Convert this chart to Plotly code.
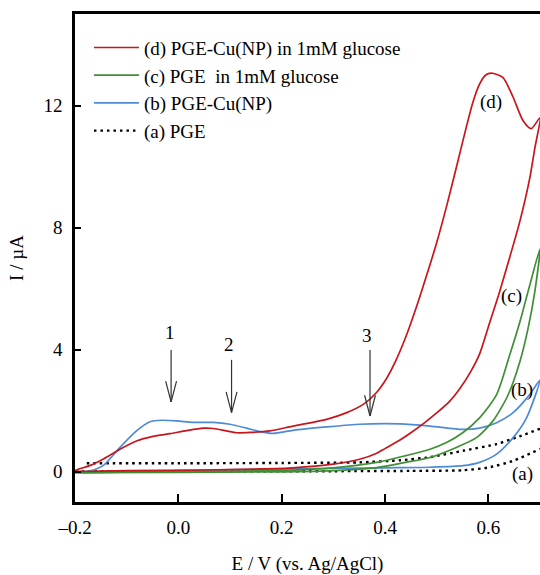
import plotly.graph_objects as go

# ---- data (E in V, I in uA) ----
d_fwd_E = [-0.2, -0.17, -0.145, -0.113, -0.081, -0.049, -0.016, 0.016, 0.048, 0.068, 0.093, 0.113, 0.139, 0.177,
           0.222, 0.287, 0.326, 0.358, 0.384, 0.403, 0.42, 0.44, 0.46, 0.48, 0.5, 0.52, 0.54, 0.556, 0.57, 0.583,
           0.595, 0.606, 0.628, 0.648, 0.667, 0.683, 0.7]
d_fwd_I = [0.03, 0.2, 0.41, 0.73, 1.0, 1.15, 1.24, 1.34, 1.42, 1.41, 1.33, 1.27, 1.28, 1.33,
           1.49, 1.71, 1.93, 2.2, 2.6, 3.05, 3.6, 4.4, 5.35, 6.4, 7.5, 8.75, 10.1, 11.2, 12.1, 12.7,
           13.0, 13.06, 12.92, 12.27, 11.51, 11.24, 11.6]
d_rev_E = [0.69, 0.68, 0.661, 0.641, 0.622, 0.603, 0.583, 0.565, 0.545, 0.525, 0.5, 0.475, 0.45, 0.429, 0.4,
           0.384, 0.351, 0.3, 0.222, 0.15, 0.05, -0.1, -0.2]
d_rev_I = [10.6, 9.6, 8.2, 7.0, 5.9, 4.9, 3.85, 3.25, 2.72, 2.3, 1.92, 1.58, 1.27, 1.03, 0.75,
           0.6, 0.4, 0.24, 0.12, 0.08, 0.05, 0.03, 0.03]

c_low_E = [-0.2, 0.0, 0.2, 0.3, 0.384, 0.44, 0.487, 0.538, 0.577, 0.609, 0.638, 0.661, 0.677, 0.69, 0.7]
c_low_I = [-0.04, -0.03, -0.01, 0.03, 0.13, 0.3, 0.46, 0.79, 1.11, 1.66, 2.5, 3.6, 4.7, 5.9, 7.3]
c_up_E = [0.68, 0.661, 0.641, 0.616, 0.583, 0.551, 0.519, 0.487, 0.44, 0.384, 0.3, 0.2, 0.0, -0.2]
c_up_I = [6.1, 4.9, 3.8, 2.52, 1.76, 1.28, 0.95, 0.73, 0.52, 0.3, 0.12, 0.04, 0.0, -0.02]

b_fwd_E = [-0.2, -0.17, -0.145, -0.113, -0.081, -0.055, -0.032, -0.003, 0.029, 0.068, 0.1, 0.132, 0.158,
           0.184, 0.222, 0.287, 0.351, 0.429, 0.487, 0.551, 0.583, 0.616, 0.648, 0.68, 0.7]
b_fwd_I = [-0.05, 0.02, 0.2, 0.79, 1.33, 1.63, 1.68, 1.66, 1.61, 1.61, 1.55, 1.42, 1.31,
           1.25, 1.35, 1.46, 1.55, 1.56, 1.49, 1.38, 1.42, 1.6, 1.93, 2.52, 3.0]
b_rev_E = [0.674, 0.648, 0.616, 0.583, 0.551, 0.487, 0.4, 0.3, 0.177, 0.0, -0.2]
b_rev_I = [1.76, 1.11, 0.57, 0.3, 0.19, 0.14, 0.12, 0.1, 0.08, 0.03, -0.05]

a_low_E = [-0.2, 0.0, 0.3, 0.45, 0.55, 0.6, 0.65, 0.7]
a_low_I = [0.0, 0.0, 0.01, 0.02, 0.04, 0.13, 0.36, 0.74]
a_up_E = [0.7, 0.66, 0.616, 0.551, 0.487, 0.43, 0.35, 0.2, 0.0, -0.185]
a_up_I = [1.4, 1.15, 0.9, 0.68, 0.47, 0.37, 0.3, 0.28, 0.27, 0.27]

legend_names = ["(d) PGE-Cu(NP) in 1mM glucose", "(c) PGE\u00a0 in 1mM glucose", "(b) PGE-Cu(NP)", "(a) PGE"]

curve_label_text = ["(d)", "(c)", "(b)", "(a)"]
curve_label_E = [0.606, 0.645, 0.666, 0.667]
curve_label_I = [12.1, 5.77, 2.68, -0.08]

arrow_text = ["1", "2", "3"]
arrow_E = [-0.014, 0.103, 0.371]
arrow_tail_I = [3.98, 3.66, 3.98]
arrow_tip_I = [2.28, 1.93, 1.82]
arrow_label_E = [-0.016, 0.098, 0.365]
arrow_label_I = [4.56, 4.18, 4.45]

x_tickvals = [-0.2, 0.0, 0.2, 0.4, 0.6]
x_ticktext = ["\u20130.2", "0.0", "0.2", "0.4", "0.6"]
y_tickvals = [0, 4, 8, 12]
y_ticktext = ["0", "4", "8", "12"]

RED = "#c8161e"
GREEN = "#3f8f35"
BLUE = "#4f8ad6"
FONT = "Liberation Serif"
FS = 19

fig = go.Figure()
fig.add_trace(go.Scatter(x=a_low_E + [None] + a_up_E, y=a_low_I + [None] + a_up_I, mode="lines",
                         name=legend_names[3],
                         line=dict(color="black", width=2.4, dash="2.5px,4px", shape="spline", smoothing=0.6)))
fig.add_trace(go.Scatter(x=b_fwd_E + b_rev_E, y=b_fwd_I + b_rev_I, mode="lines", name=legend_names[2],
                         line=dict(color=BLUE, width=1.7, shape="spline", smoothing=0.7)))
fig.add_trace(go.Scatter(x=c_low_E + c_up_E, y=c_low_I + c_up_I, mode="lines", name=legend_names[1],
                         line=dict(color=GREEN, width=1.7, shape="spline", smoothing=0.7)))
fig.add_trace(go.Scatter(x=d_fwd_E + d_rev_E, y=d_fwd_I + d_rev_I, mode="lines", name=legend_names[0],
                         line=dict(color=RED, width=1.7, shape="spline", smoothing=0.7)))

for t, e, i in zip(curve_label_text, curve_label_E, curve_label_I):
    fig.add_annotation(x=e, y=i, text=t, showarrow=False, font=dict(family=FONT, size=FS, color="black"))

head_dx = 0.0105
head_dy = 0.68
for t, e, tail, tip, le, li in zip(arrow_text, arrow_E, arrow_tail_I, arrow_tip_I, arrow_label_E, arrow_label_I):
    fig.add_annotation(x=le, y=li, text=t, showarrow=False, font=dict(family=FONT, size=FS, color="black"))
    ln = dict(color="#333333", width=1.2)
    fig.add_shape(type="line", x0=e, x1=e, y0=tail, y1=tip, line=ln)
    fig.add_shape(type="line", x0=e - head_dx, x1=e, y0=tip + head_dy, y1=tip, line=ln)
    fig.add_shape(type="line", x0=e + head_dx, x1=e, y0=tip + head_dy, y1=tip, line=ln)

fig.update_layout(
    width=540, height=575,
    margin=dict(l=75, r=0, t=14, b=70),
    paper_bgcolor="white", plot_bgcolor="white",
    font=dict(family=FONT, size=FS, color="black"),
    showlegend=True,
    legend=dict(x=0.03, y=0.97, xanchor="left", yanchor="top", traceorder="reversed",
                bgcolor="rgba(0,0,0,0)", font=dict(family=FONT, size=FS), itemwidth=45,
                tracegroupgap=0),
    xaxis=dict(range=[-0.2, 0.7], tickvals=x_tickvals, ticktext=x_ticktext, ticks="inside", ticklen=8,
               tickwidth=2, tickcolor="black", showline=True, linecolor="black", linewidth=2.5,
               mirror=True, showgrid=False, zeroline=False, ticklabelstandoff=6,
               title=dict(text="E / V (vs. Ag/AgCl)", standoff=24, font=dict(size=FS))),
    yaxis=dict(range=[-1, 15], tickvals=y_tickvals, ticktext=y_ticktext, ticks="inside", ticklen=6,
               tickwidth=2, tickcolor="black", showline=True, linecolor="black", linewidth=2.5,
               showgrid=False, zeroline=False, ticklabelstandoff=6,
               title=dict(text="I / \u00b5A", standoff=15, font=dict(size=FS))),
)

fig.write_html("out.html", config={"displayModeBar": False},
               post_script="document.body.style.margin='0';document.body.style.overflow='hidden';")
